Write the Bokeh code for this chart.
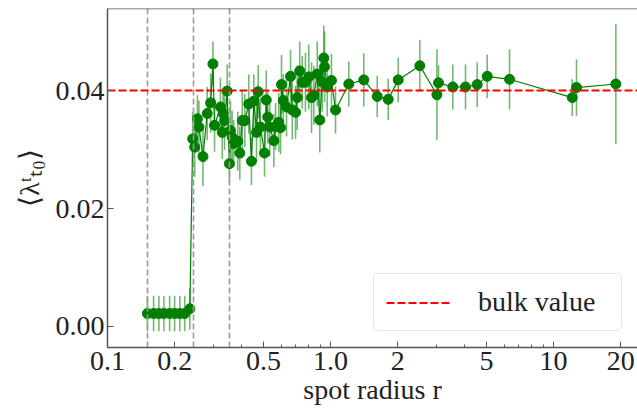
from bokeh.plotting import figure
from bokeh.models import FixedTicker, Range1d, Span, PrintfTickFormatter, ColumnDataSource
from bokeh.embed import file_html
from bokeh.resources import INLINE

# ---- data ----
radius = [0.151, 0.161, 0.170, 0.179, 0.190, 0.200, 0.211, 0.222, 0.234,
          0.241, 0.246, 0.253, 0.257, 0.268, 0.280, 0.290, 0.297, 0.302, 0.321,
          0.327, 0.330, 0.335, 0.344, 0.352, 0.356, 0.362, 0.368, 0.384, 0.392,
          0.402, 0.413, 0.430, 0.442, 0.453, 0.466, 0.474, 0.485, 0.506, 0.515,
          0.523, 0.534, 0.557, 0.567, 0.586, 0.597, 0.603, 0.614, 0.635, 0.662,
          0.674, 0.697, 0.709, 0.728, 0.747, 0.772, 0.799, 0.822, 0.842, 0.872,
          0.895, 0.918, 0.933, 0.940, 0.967, 1.010, 1.053,
          1.208, 1.410, 1.620, 1.814, 2.012, 2.515, 3.00, 3.05, 3.535, 4.031,
          4.548, 5.043, 6.35, 12.13, 12.68, 19.03]
lam = [0.0022, 0.0022, 0.0022, 0.0022, 0.0022, 0.0022, 0.0022, 0.0022, 0.0030,
       0.0318, 0.0304, 0.0352, 0.0338, 0.0288, 0.0361, 0.0379, 0.0445, 0.0341, 0.0372,
       0.0329, 0.0361, 0.0349, 0.0399, 0.0276, 0.0332, 0.0321, 0.0310, 0.0314, 0.0294,
       0.0349, 0.0349, 0.0377, 0.0280, 0.0382, 0.0329, 0.0398, 0.0338, 0.0294, 0.0384,
       0.0355, 0.0338, 0.0315, 0.0339, 0.0346, 0.0337, 0.0410, 0.0383, 0.0372, 0.0424,
       0.0367, 0.0363, 0.0388, 0.0433, 0.0414, 0.0414, 0.0423, 0.0388, 0.0392, 0.0428,
       0.0350, 0.0414, 0.0455, 0.0440, 0.0406, 0.0417, 0.0367,
       0.0411, 0.0418, 0.0390, 0.0385, 0.0418, 0.0442, 0.0393, 0.0413, 0.0406, 0.0406,
       0.0410, 0.0424, 0.0419, 0.0388, 0.0405, 0.0411]
lam_err = [0.0030, 0.0030, 0.0030, 0.0030, 0.0030, 0.0030, 0.0030, 0.0030, 0.0035,
           0.0045, 0.0050, 0.0040, 0.0045, 0.0050, 0.0045, 0.0050, 0.0038, 0.0045, 0.0050,
           0.0045, 0.0040, 0.0050, 0.0045, 0.0032, 0.0050, 0.0045, 0.0040, 0.0050, 0.0045,
           0.0050, 0.0045, 0.0050, 0.0040, 0.0045, 0.0050, 0.0045, 0.0050, 0.0040, 0.0050,
           0.0045, 0.0050, 0.0045, 0.0040, 0.0050, 0.0045, 0.0050, 0.0045, 0.0050, 0.0045,
           0.0050, 0.0045, 0.0055, 0.0050, 0.0045, 0.0050, 0.0055, 0.0060, 0.0050, 0.0055,
           0.0055, 0.0050, 0.0055, 0.0060, 0.0050, 0.0045, 0.0040,
           0.0038, 0.0045, 0.0035, 0.0035, 0.0038, 0.0044, 0.0077, 0.0030, 0.0038, 0.0038,
           0.0038, 0.0037, 0.0051, 0.0031, 0.0048, 0.0102]
bulk_value = 0.04
region_bounds = [0.151, 0.243, 0.352]

x_ticks = [0.1, 0.2, 0.5, 1.0, 2, 5, 10, 20]
x_minor = [0.3, 0.4, 0.6, 0.7, 0.8, 0.9, 3, 4, 6, 7, 8, 9]
y_ticks = [0.0, 0.02, 0.04]

FONT = "Liberation Serif"
GREEN = "#007f00"

src = ColumnDataSource(dict(
    r=radius, lam=lam,
    lo=[v - e for v, e in zip(lam, lam_err)],
    hi=[v + e for v, e in zip(lam, lam_err)],
))

p = figure(width=637, height=408, x_axis_type="log",
           x_range=Range1d(0.1, 23.8), y_range=Range1d(-0.00356, 0.0539),
           output_backend="svg", toolbar_location=None,
           min_border_left=107, min_border_right=0, min_border_top=8, min_border_bottom=61)
p.outline_line_color = None
p.xgrid.visible = False
p.ygrid.visible = False
p.background_fill_color = "white"

# top spine
p.add_layout(Span(location=0.0539, dimension="width", line_color="#555555", line_width=1.5))

# errorbars, line, markers
p.segment(x0="r", y0="lo", x1="r", y1="hi", source=src, line_color=GREEN,
          line_alpha=0.55, line_width=1.6)
p.line(x="r", y="lam", source=src, line_color=GREEN, line_width=1.2)
p.scatter(x="r", y="lam", source=src, size=10, fill_color=GREEN, line_color=GREEN)

# guides
p.vspan(x=region_bounds, line_color="#999999", line_width=1.6, line_dash="6 3")
p.hspan(y=[bulk_value], line_color="red", line_width=2, line_dash="8 3",
        legend_label="bulk value")

# axes
for ax in (p.xaxis[0], p.yaxis[0]):
    ax.axis_line_color = "#555555"
    ax.axis_line_width = 1.5
    ax.major_tick_line_color = "#555555"
    ax.minor_tick_line_color = "#555555"
    ax.major_tick_in = 6
    ax.major_tick_out = 0
    ax.minor_tick_in = 3
    ax.minor_tick_out = 0
    ax.major_label_text_font = FONT
    ax.major_label_text_font_size = "28px"
    ax.major_label_text_color = "#222222"
    ax.axis_label_text_font = FONT
    ax.axis_label_text_font_size = "28px"
    ax.axis_label_text_font_style = "normal"
    ax.axis_label_text_color = "#222222"

p.xaxis.ticker = FixedTicker(ticks=x_ticks, minor_ticks=x_minor)
p.xaxis.major_label_overrides = {0.1: "0.1", 0.2: "0.2", 0.5: "0.5", 1.0: "1.0",
                                 2: "2", 5: "5", 10: "10", 20: "20"}
p.xaxis.axis_label = "spot radius r"
p.xaxis.major_label_standoff = 4
p.xaxis.axis_label_standoff = 1

p.yaxis.ticker = FixedTicker(ticks=y_ticks, minor_ticks=[])
p.yaxis.formatter = PrintfTickFormatter(format="%.2f")
p.yaxis.axis_label = "⟨λᵗₜ₀⟩"
p.yaxis.major_label_standoff = 3
p.yaxis.axis_label_standoff = 8

# legend
lg = p.legend[0]
lg.location = (266, 16)
lg.label_text_font = FONT
lg.label_text_font_size = "28px"
lg.label_text_color = "#222222"
lg.glyph_width = 66
lg.glyph_height = 31
lg.label_height = 31
lg.label_width = 131
lg.label_standoff = 26
lg.padding = 12
lg.margin = 0
lg.border_line_color = "#cccccc"
lg.border_line_width = 1
lg.background_fill_color = "white"
lg.background_fill_alpha = 1.0
if "border_radius" in type(lg).properties():
    lg.border_radius = 5

html = file_html(p, INLINE)
open("out.html", "w").write(html)
